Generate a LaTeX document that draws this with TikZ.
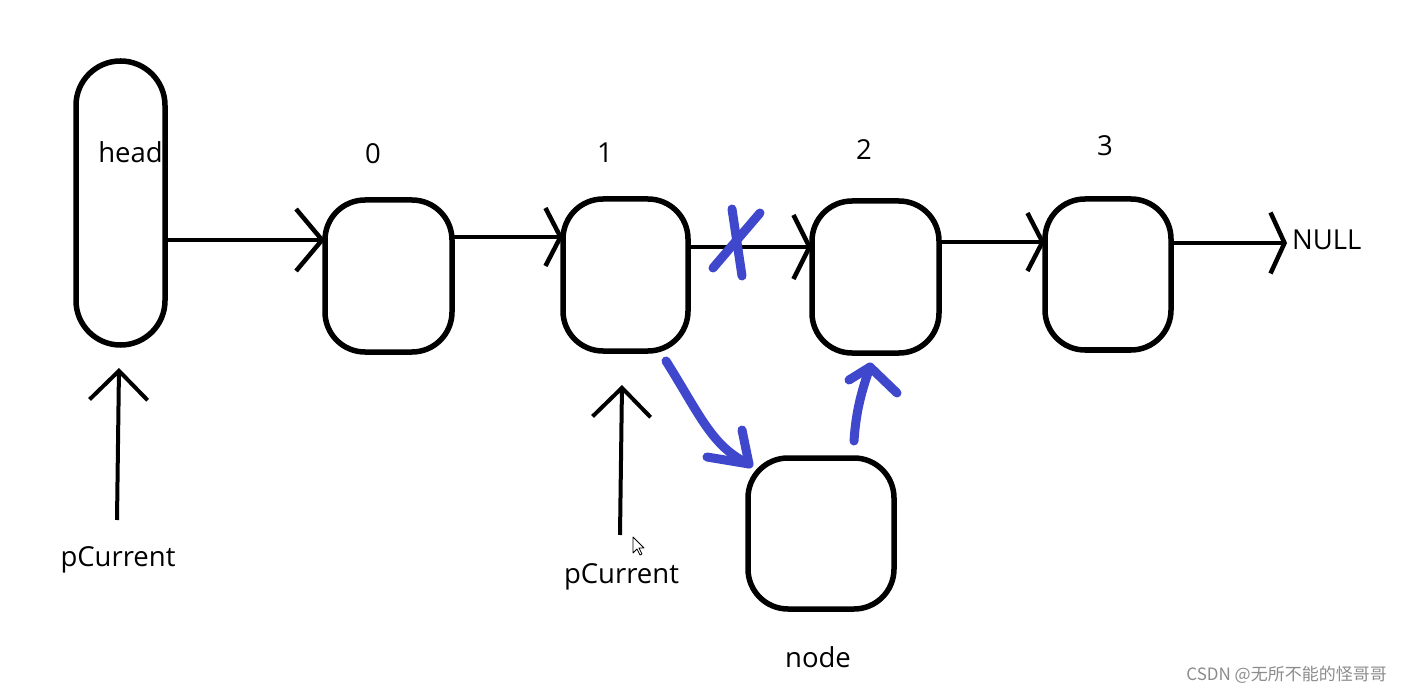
\documentclass[tikz,border=0pt]{standalone}
\usepackage{fontspec}
\setmainfont{Open Sans}
\newfontfamily\cjkfont{Noto Sans CJK SC}
\usetikzlibrary{arrows.meta}
\definecolor{pblue}{HTML}{3F48CC}
\definecolor{wmgray}{RGB}{140,140,140}
\begin{document}
\begin{tikzpicture}[x=1pt,y=-1pt,
  box/.style={draw, line width=5.5pt, rounded corners=40pt, inner sep=0pt, outer sep=0pt},
  lbl/.style={inner sep=0pt, font=\fontsize{27.5}{32}\selectfont, anchor=base},
  conn/.style={line width=4.5pt, -{Straight Barb[length=15pt,width=58pt]}},
  ptr/.style={line width=4pt, -{Straight Barb[length=29pt,width=58pt]}},
  bstroke/.style={pblue, line width=9pt, line cap=round, line join=round}]
\useasboundingbox[fill=white] (0,0) rectangle (1402,692);

% nodes
\node[box, rounded corners=44.4pt, minimum width=89pt, minimum height=284pt] (head) at (120.5,203) {};
\node[box, minimum width=127pt, minimum height=152pt] (b0) at (388.5,276) {};
\node[box, minimum width=125pt, minimum height=152pt] (b1) at (625.5,275) {};
\node[box, minimum width=127pt, minimum height=152pt] (b2) at (875.5,277) {};
\node[box, minimum width=126pt, minimum height=151pt] (b3) at (1108,274.5) {};
\node[box, minimum width=146pt, minimum height=151pt] (nd) at (821,533.5) {};

% labels
\node[lbl] (headlbl) at (130.5,163) {head};
\node[lbl] (l0) at (373,164) {0};
\node[lbl] (l1) at (605,163) {1};
\node[lbl] (l2) at (864,160) {2};
\node[lbl] (l3) at (1105,156) {3};
\node[lbl, anchor=base west] (null) at (1292,250) {NULL};
\node[lbl] (pc1) at (118,566) {pCurrent};
\node[lbl] (pc2) at (621.5,583) {pCurrent};
\node[lbl] (ndlbl) at (818,667) {node};
\node[inner sep=0pt, anchor=base east, text=wmgray, font=\cjkfont\fontsize{17}{20}\selectfont] (wm) at (1387,680) {CSDN @无所不能的怪哥哥};

% connectors
\draw[conn, -{Straight Barb[length=26pt,width=62pt]}] (head.east |- 0,240) -- (b0.west |- 0,240);
\draw[conn] (b0.east |- 0,237) -- (b1.west |- 0,237);
\draw[conn, -{Straight Barb[length=16pt,width=64pt]}] (b1.east |- 0,247) -- (b2.west |- 0,247);
\draw[conn] (b2.east |- 0,242) -- (b3.west |- 0,242);
\coordinate (nulltip) at (1287,243);
\draw[conn, -{Straight Barb[length=14pt,width=61pt]}] ([xshift=2pt]b3.east |- 0,243) -- (nulltip);

% pCurrent pointers
\coordinate (t1) at (119,368);
\coordinate (t2) at (622,385);
\draw[ptr] (117,520) -- (t1);
\draw[ptr] (620,535) -- (t2);

% blue strokes
\draw[bstroke] (732,209) -- (742,276);
\draw[bstroke] (760,213) -- (713,268);
\coordinate (bt1) at (749,464);
\draw[bstroke] (666,361) .. controls (700,415) and (712,447) .. (bt1);
\draw[bstroke] (742,430) -- (bt1) -- (707,457);
\coordinate (bt2) at (870,367);
\draw[bstroke] (854,441) .. controls (856,410) and (862,390) .. (bt2);
\draw[bstroke] (849,380) -- (bt2) -- (897,393);

% mouse cursor
\draw[line width=0.8pt, fill=white, line join=round] (633,537) -- (633,553) -- (637,549) -- (640,555) -- (642,554) -- (639,548) -- (644,548) -- cycle;
\end{tikzpicture}
\end{document}
